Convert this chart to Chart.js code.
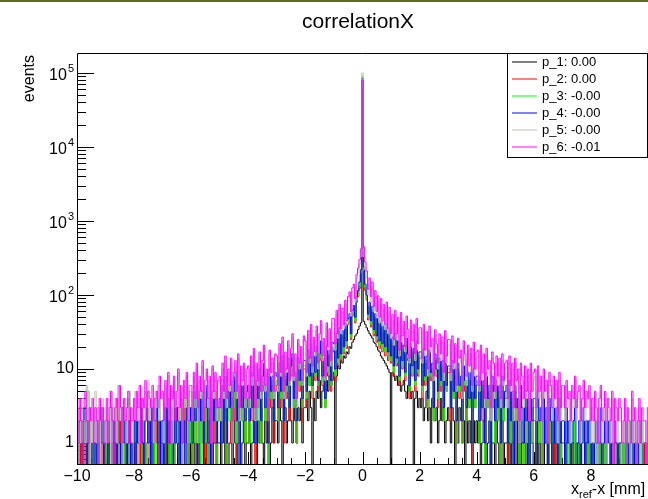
<!DOCTYPE html>
<html lang="en">
<head>
<meta charset="UTF-8">
<title>correlationX</title>
<script src="https://cdn.jsdelivr.net/npm/chart.js"></script>
<style>
  body { margin: 0; background: #fff; }
  #wrap { width: 648px; height: 499px; }
</style>
</head>
<body>
<div id="wrap"><canvas id="corr" width="648" height="499"></canvas></div>
<script>
// bins of 0.05 mm, centres from -10 to +10 (401 bins), one row = 1 mm
const binX = [];
for (let i = 0; i <= 400; i++) binX.push(Math.round((-10 + i * 0.05) * 100) / 100);

const seriesNames = ['p_1: 0.00', 'p_2: 0.00', 'p_3: -0.00', 'p_4: -0.00', 'p_5: -0.00', 'p_6: -0.01'];
const seriesColors = ['#000000', '#ff0000', '#00ff00', '#0000ff', '#c4beb8', '#ff00ff'];

const p1 = [
  0,0,0,1,0,0,0,0,1,0,0,0,0,0,1,0,0,0,0,0,
  0,0,1,0,0,0,0,1,0,0,0,0,0,0,0,1,0,0,0,0,
  0,1,0,0,0,0,1,0,0,0,0,0,1,0,0,0,0,1,0,0,
  0,0,1,0,1,0,0,0,1,0,0,1,0,0,1,0,0,0,1,0,
  1,0,0,1,0,1,1,0,0,1,0,1,0,1,0,0,1,1,0,1,
  1,0,1,2,0,1,0,1,1,0,2,1,0,1,1,0,1,2,0,1,
  1,2,0,1,2,1,0,2,1,3,1,0,2,1,2,0,1,3,1,2,
  2,1,3,2,0,2,3,1,2,4,2,1,3,2,1,3,2,4,1,3,
  3,4,2,5,3,0,4,2,5,4,7,3,5,6,4,7,5,8,6,7,
  9,0,8,11,10,13,12,15,14,17,16,20,19,23,25,28,30,34,38,42,
  60000,
  44,40,36,33,30,28,26,23,22,20,18,17,15,14,13,12,11,10,9,0,
  9,8,7,8,6,7,5,6,7,5,4,6,5,4,5,0,4,5,3,4,
  3,4,2,3,5,2,3,1,4,3,2,3,1,2,4,2,3,1,2,3,
  2,1,3,2,0,2,1,3,2,1,2,0,3,1,2,1,0,2,1,2,
  1,2,0,1,2,1,0,1,2,0,1,1,0,2,1,0,1,2,0,1,
  1,0,1,0,1,1,0,2,0,1,0,1,1,0,1,0,0,1,1,0,
  0,1,0,1,0,0,1,0,0,1,0,0,1,0,1,0,0,0,1,0,
  0,0,1,0,0,0,0,1,0,0,0,1,0,0,0,0,1,0,0,0,
  0,1,0,0,0,0,1,0,0,0,0,0,0,1,0,0,0,0,1,0,
  0,0,0,0,1,0,0,0,0,0,1,0,0,0,0,0,0,1,0,0
];
const p2 = [
  1,0,0,2,1,0,1,0,2,0,1,0,1,1,0,2,0,1,0,1,
  0,1,0,2,0,1,1,0,4,0,1,2,0,1,0,1,2,0,1,0,
  1,0,2,1,0,3,1,2,0,1,2,0,1,3,0,2,1,0,2,1,
  1,0,3,1,2,0,3,1,0,2,1,3,0,2,1,0,4,1,0,2,
  2,0,4,1,3,0,5,2,1,3,0,4,1,2,0,3,1,5,0,2,
  3,1,4,2,5,0,3,6,1,4,2,5,0,3,1,6,2,4,1,3,
  4,1,6,2,8,0,5,3,7,1,5,9,2,4,1,8,3,6,1,5,
  6,2,9,3,12,1,7,4,11,2,8,13,3,7,1,11,5,9,2,10,
  10,3,14,6,17,4,12,7,16,5,13,19,6,11,3,17,8,15,5,18,
  17,7,24,11,30,13,27,16,35,19,40,47,25,52,60,42,80,95,122,190,
  70000,
  200,115,85,46,68,37,58,28,47,23,40,19,37,17,31,15,33,13,28,12,
  22,8,25,11,19,6,23,10,17,7,21,13,4,18,8,16,5,20,8,14,
  14,4,16,6,12,3,15,7,9,2,13,8,3,11,5,10,2,12,5,9,
  9,2,10,4,8,1,9,4,6,1,8,5,2,7,3,7,0,8,3,6,
  6,1,7,2,5,0,6,3,4,0,6,3,1,5,2,4,0,5,2,4,
  4,0,5,1,3,0,4,2,3,0,4,1,0,3,1,3,0,3,1,2,
  2,0,3,1,2,0,2,1,1,0,3,1,0,2,0,1,0,2,0,1,
  1,0,1,0,0,1,0,1,0,0,1,0,2,0,0,1,0,1,0,0,
  0,1,0,0,1,0,0,1,0,1,0,0,0,1,0,0,1,0,0,1,
  0,0,1,0,0,1,0,0,0,1,0,0,1,0,0,0,0,1,0,0
];
const p3 = [
  2,0,1,3,0,1,2,0,5,1,0,2,1,0,1,3,0,1,2,0,
  0,1,2,0,1,0,3,1,0,2,1,0,1,2,0,1,4,0,1,0,
  1,2,0,1,3,1,0,2,1,0,2,3,0,1,2,0,1,3,1,2,
  2,0,3,1,2,0,4,1,0,3,1,2,0,3,1,0,2,4,0,1,
  3,0,4,1,5,1,2,0,4,2,1,5,0,3,1,4,2,3,0,2,
  3,1,5,2,6,0,4,2,5,1,3,7,1,5,0,6,2,4,1,4,
  5,1,7,3,9,1,6,2,8,1,6,10,2,5,0,8,4,7,2,6,
  7,2,10,4,13,2,8,5,12,3,9,14,3,8,1,12,6,10,3,11,
  11,4,15,6,19,5,13,8,17,6,14,21,7,12,3,18,9,16,6,20,
  18,8,26,12,32,14,29,17,37,21,43,50,27,56,64,45,85,100,130,200,
  90000,
  215,125,90,50,72,40,62,30,50,25,43,21,40,19,34,17,36,15,31,13,
  24,9,27,12,21,7,25,11,18,8,23,14,5,19,9,17,6,21,9,15,
  15,5,17,7,13,3,16,8,10,2,14,9,4,12,6,11,2,13,5,10,
  10,3,11,4,8,1,10,5,7,1,9,6,2,8,3,7,1,9,3,6,
  7,1,8,3,6,0,7,3,5,0,6,4,1,6,2,5,0,6,2,4,
  5,1,6,1,4,0,5,2,3,0,5,2,0,4,1,3,0,4,1,3,
  3,0,4,1,2,0,3,1,2,0,3,1,0,2,1,2,0,3,0,1,
  1,0,2,0,1,0,1,2,0,1,0,1,0,2,1,0,1,0,2,0,
  1,0,1,0,2,0,1,0,0,1,0,2,1,0,1,0,0,1,0,1,
  0,1,0,1,0,0,2,0,1,0,0,1,0,1,0,2,0,0,1,0
];
const p4 = [
  1,0,2,1,0,1,3,0,1,2,0,1,1,0,2,1,0,3,1,0,
  1,2,0,1,3,0,2,1,0,2,1,0,3,1,2,0,1,2,0,1,
  2,0,3,1,2,4,1,0,2,3,1,2,0,3,1,2,4,1,2,0,
  2,0,3,1,4,1,2,0,5,1,3,2,0,4,1,2,0,3,1,2,
  3,1,5,2,6,0,4,2,5,1,3,6,1,4,0,5,2,4,1,3,
  4,1,6,2,8,1,5,3,7,1,5,9,2,6,0,7,3,6,2,5,
  6,2,9,3,11,1,7,4,10,2,8,12,3,6,1,10,5,8,2,9,
  8,3,12,5,15,2,10,6,14,3,11,16,4,9,2,14,7,12,4,13,
  13,5,18,8,22,6,15,9,20,7,16,24,8,14,4,21,11,18,7,23,
  22,10,30,14,36,16,33,20,42,24,48,56,30,62,72,50,95,115,150,220,
  85000,
  240,140,100,55,80,45,70,34,56,28,48,24,44,22,38,20,40,17,34,15,
  27,11,30,14,24,8,28,13,21,9,26,16,6,22,11,19,7,24,10,17,
  17,6,19,8,15,4,18,9,12,3,16,10,5,14,7,13,3,15,6,11,
  11,3,13,5,10,2,12,6,8,2,11,7,3,9,4,9,1,10,4,8,
  8,2,9,3,7,1,9,4,6,0,8,5,2,7,3,6,1,8,3,5,
  6,1,7,2,5,0,6,3,4,1,6,3,1,5,2,4,0,5,2,4,
  4,0,5,2,3,1,4,1,3,0,4,2,0,3,1,3,0,4,1,2,
  2,0,3,1,2,0,1,2,4,0,1,2,0,1,3,0,2,1,2,0,
  1,0,2,1,0,1,3,0,1,2,0,1,2,0,1,0,2,1,0,1,
  1,0,1,2,0,1,0,1,2,0,1,0,0,2,1,0,1,1,0,1
];
const p5 = [
  2,0,3,1,4,2,1,6,2,0,3,1,2,5,1,3,0,2,4,1,
  3,1,2,5,0,3,2,4,1,6,2,3,0,2,4,1,3,5,2,1,
  3,5,2,4,1,6,3,2,5,3,7,2,4,3,1,5,3,6,2,4,
  4,1,6,3,8,2,5,1,7,3,4,9,2,5,0,6,3,8,1,5,
  5,2,8,3,10,1,7,4,11,2,6,9,3,7,1,10,4,8,2,6,
  7,2,10,4,13,3,9,5,12,1,8,11,4,14,2,10,6,11,3,9,
  10,3,13,6,17,2,11,6,15,4,12,19,5,9,2,16,8,12,4,14,
  13,5,19,8,24,4,15,9,21,6,17,27,7,14,3,22,10,18,6,25,
  21,8,29,12,35,9,24,15,33,10,27,40,13,23,7,37,18,31,11,42,
  40,18,55,26,66,30,58,35,75,40,84,98,52,110,125,80,165,200,260,330,
  100000,
  330,220,170,100,140,80,125,60,95,50,82,42,76,38,64,34,68,30,58,26,
  46,21,52,25,42,15,49,23,37,17,44,28,12,39,20,34,13,41,18,30,
  31,12,34,15,27,8,32,17,22,7,29,19,10,25,13,23,7,28,12,21,
  21,7,24,10,19,5,22,12,15,4,20,13,6,18,9,16,5,19,8,14,
  15,5,18,7,13,3,16,8,11,2,14,10,4,12,6,12,3,13,6,10,
  11,3,12,5,10,2,12,6,8,1,10,7,3,9,4,8,2,10,4,7,
  8,2,9,4,7,1,8,4,6,1,7,5,2,7,3,6,1,7,2,5,
  5,2,6,3,4,1,5,3,7,2,4,5,1,3,6,2,4,3,5,1,
  3,1,4,2,0,3,5,1,2,4,0,3,2,1,4,0,3,2,1,3,
  2,0,1,3,0,2,1,0,4,1,2,0,1,3,0,2,1,1,0,2
];
const p6 = [
  3,1,4,2,0,3,5,2,1,3,2,4,1,3,2,0,4,2,3,1,
  2,4,1,3,5,2,0,3,4,2,6,3,1,4,2,3,5,1,3,2,
  4,2,5,3,6,1,4,3,7,2,5,4,3,6,2,4,5,3,8,4,
  5,2,7,3,9,1,6,4,8,2,5,10,3,6,1,7,4,9,2,6,
  6,2,9,4,12,3,8,5,13,2,7,10,4,8,1,11,5,9,3,7,
  8,3,12,5,15,4,10,6,14,2,9,13,5,16,3,11,7,12,4,10,
  11,4,15,8,19,3,12,7,17,5,13,21,6,10,2,18,9,14,5,16,
  15,6,22,9,27,5,17,10,24,7,19,30,8,16,4,25,12,20,7,28,
  24,9,33,14,40,11,27,17,38,12,30,45,15,26,8,42,20,35,13,48,
  48,22,62,30,75,35,66,40,85,45,95,110,60,125,140,90,190,230,300,420,
  80000,
  450,280,210,120,170,95,150,70,115,60,98,50,90,45,75,40,80,35,68,30,
  55,25,62,30,50,18,58,28,44,20,52,34,14,46,24,40,16,48,22,36,
  36,14,40,18,32,10,38,20,26,8,34,22,12,30,16,27,9,33,15,25,
  25,9,28,12,22,6,26,14,18,5,24,16,8,21,11,19,6,23,10,17,
  18,6,21,9,16,4,19,10,13,3,17,12,5,15,8,14,4,16,7,12,
  13,4,15,6,12,3,14,7,10,2,12,8,4,11,5,10,2,12,5,9,
  10,3,11,5,8,2,10,5,7,1,9,6,3,8,4,7,2,9,3,6,
  6,3,7,4,5,2,6,4,8,3,5,6,2,4,7,3,5,4,6,2,
  4,2,5,3,1,4,6,2,3,5,1,4,3,2,5,0,4,3,2,4,
  3,1,2,4,0,3,2,1,5,2,3,0,2,4,1,3,2,2,0,3
];
const seriesValues = [p1, p2, p3, p4, p5, p6];

const yTickValues = [1, 10, 100, 1000, 10000, 100000];
const yTickBase = ['1', '10', '10', '10', '10', '10'];
const yTickExp = ['', '', '2', '3', '4', '5'];
const xTickValues = [-10, -8, -6, -4, -2, 0, 2, 4, 6, 8];
const xTickLabels = ['\u221210', '\u22128', '\u22126', '\u22124', '\u22122', '0', '2', '4', '6', '8'];

const FONT = '"Liberation Sans", Arial, sans-serif';

// empty bins sit below the log axis so the step drops to the frame
const datasets = seriesValues.map((vals, k) => ({
  label: seriesNames[k],
  data: vals.map((v, i) => ({ x: binX[i], y: v > 0 ? v : 0.01 })),
  borderColor: seriesColors[k],
  borderWidth: 1,
  pointRadius: 0,
  fill: false,
  stepped: 'middle',
  tension: 0,
  order: 5 - k
}));

const rootLook = {
  id: 'rootLook',
  beforeDraw(chart) {
    const ctx = chart.ctx;
    ctx.save();
    ctx.fillStyle = '#ffffff';
    ctx.fillRect(0, 0, chart.width, chart.height);
    ctx.fillStyle = '#5d6c1e';
    ctx.fillRect(0, 0, chart.width, 2);
    ctx.restore();
  },
  beforeDatasetsDraw(chart) {
    const { ctx, chartArea: a, scales: { x, y } } = chart;
    ctx.save();
    ctx.strokeStyle = '#000';
    ctx.lineWidth = 1;
    ctx.beginPath();
    for (let k = -1; k <= 5; k++) {
      for (let m = 1; m <= 9; m++) {
        const v = m * Math.pow(10, k);
        if (v < y.min || v > y.max) continue;
        const py = Math.round(y.getPixelForValue(v)) + 0.5;
        const len = m === 1 ? 17 : 9;
        ctx.moveTo(a.left, py);
        ctx.lineTo(a.left + len, py);
      }
    }
    for (let i = 0; i <= 40; i++) {
      const v = -10 + i * 0.5;
      const px = Math.round(x.getPixelForValue(v)) + 0.5;
      const len = i % 4 === 0 ? 12 : 6;
      ctx.moveTo(px, a.bottom);
      ctx.lineTo(px, a.bottom - len);
    }
    ctx.stroke();
    ctx.restore();
  },
  afterDraw(chart) {
    const { ctx, chartArea: a, scales: { x, y } } = chart;
    ctx.save();
    // frame
    ctx.strokeStyle = '#000';
    ctx.lineWidth = 1;
    ctx.beginPath();
    ctx.moveTo(a.left + 0.5, a.bottom + 0.5);
    ctx.lineTo(a.left + 0.5, a.top + 0.5);
    ctx.lineTo(a.right, a.top + 0.5);
    ctx.moveTo(a.left, a.bottom + 0.5);
    ctx.lineTo(a.right, a.bottom + 0.5);
    ctx.stroke();

    ctx.fillStyle = '#000';
    // x tick labels
    ctx.font = '16px ' + FONT;
    ctx.textAlign = 'center';
    ctx.textBaseline = 'middle';
    xTickValues.forEach((v, i) => {
      ctx.fillText(xTickLabels[i], x.getPixelForValue(v), a.bottom + 13);
    });
    // y tick labels with exponents
    yTickValues.forEach((v, i) => {
      const py = y.getPixelForValue(v);
      let right = a.left - 3;
      if (yTickExp[i]) {
        ctx.font = '11px ' + FONT;
        ctx.textAlign = 'right';
        ctx.fillText(yTickExp[i], right, py - 4);
        right -= ctx.measureText(yTickExp[i]).width + 1;
        ctx.font = '16px ' + FONT;
        ctx.fillText(yTickBase[i], right, py + 3);
      } else {
        ctx.font = '16px ' + FONT;
        ctx.textAlign = 'right';
        ctx.fillText(yTickBase[i], right, py);
      }
    });

    // title
    ctx.font = '21px ' + FONT;
    ctx.textAlign = 'center';
    ctx.fillText('correlationX', 358, 22);

    // y title
    ctx.save();
    ctx.translate(30, a.top + 2);
    ctx.rotate(-Math.PI / 2);
    ctx.font = '16px ' + FONT;
    ctx.textAlign = 'right';
    ctx.fillText('events', 0, 0);
    ctx.restore();

    // x title  x_ref-x [mm]
    ctx.textAlign = 'left';
    ctx.textBaseline = 'alphabetic';
    let tx = 571;
    ctx.font = '16px ' + FONT;
    ctx.fillText('x', tx, 494);
    tx += ctx.measureText('x').width;
    ctx.font = '11px ' + FONT;
    ctx.fillText('ref', tx, 498);
    tx += ctx.measureText('ref').width;
    ctx.font = '16px ' + FONT;
    ctx.fillText('-x [mm]', tx, 494);

    // legend box
    const lx = 507, ly = 53, lw = 140, lh = 104;
    ctx.fillStyle = '#fff';
    ctx.fillRect(lx, ly, lw, lh);
    ctx.strokeStyle = '#000';
    ctx.strokeRect(lx + 0.5, ly + 0.5, lw, lh);
    ctx.font = '13px ' + FONT;
    ctx.textBaseline = 'middle';
    seriesNames.forEach((name, k) => {
      const ry = Math.round(ly + 9 + k * 17);
      ctx.strokeStyle = seriesColors[k];
      ctx.beginPath();
      ctx.moveTo(lx + 5, ry);
      ctx.lineTo(lx + 30, ry);
      ctx.stroke();
      ctx.fillStyle = '#000';
      ctx.fillText(name, lx + 35, ry);
    });
    ctx.restore();
  }
};

new Chart(document.getElementById('corr'), {
  type: 'line',
  data: { datasets: datasets },
  options: {
    responsive: false,
    animation: false,
    events: [],
    layout: { padding: { left: 77, top: 53, right: 0, bottom: 35 } },
    plugins: { legend: { display: false }, tooltip: { enabled: false }, title: { display: false } },
    scales: {
      x: {
        type: 'linear', min: -10, max: 10,
        ticks: { display: false }, grid: { display: false, drawTicks: false }, border: { display: false }
      },
      y: {
        type: 'logarithmic', min: 0.52, max: 186000,
        ticks: { display: false }, grid: { display: false, drawTicks: false }, border: { display: false }
      }
    }
  },
  plugins: [rootLook]
});
</script>
</body>
</html>
